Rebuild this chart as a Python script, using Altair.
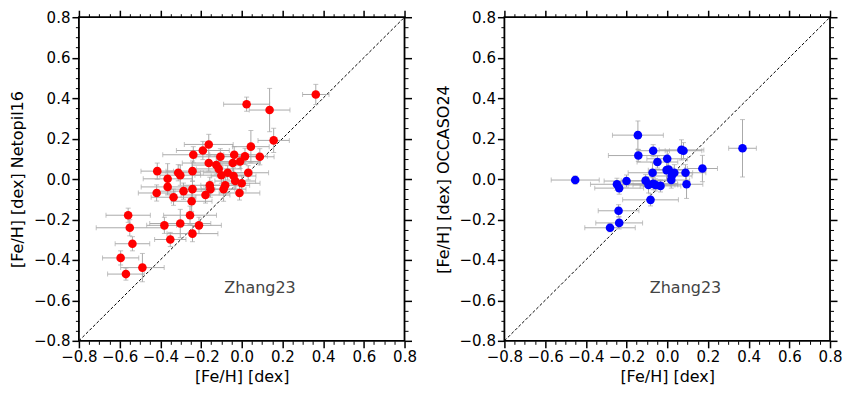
import altair as alt
import pandas as pd

# Left panel: Zhang23 vs Netopil16
l_x = [0.364, 0.024, 0.137, 0.157, 0.045, 0.089, 0.016, -0.008, -0.037, -0.044, 0.032,
       -0.162, -0.191, -0.238, -0.105, -0.162, -0.125, -0.113, -0.100, -0.069, -0.040,
       -0.032, 0.000, -0.011, -0.081, -0.089, -0.157, -0.154, -0.178, -0.242, -0.242,
       -0.246, -0.286, -0.302, -0.312, -0.335, -0.364, -0.364, -0.415, -0.418, -0.254,
       -0.302, -0.210, -0.380, -0.242, -0.351, -0.558, -0.550, -0.537, -0.595, -0.488, -0.569]
l_y = [0.418, 0.370, 0.341, 0.191, 0.160, 0.110, 0.112, 0.087, 0.120, 0.079, 0.031,
       0.171, 0.141, 0.120, 0.110, 0.079, 0.069, 0.050, 0.019, 0.031, 0.015,
       -0.010, -0.021, -0.069, -0.031, -0.050, -0.031, -0.050, -0.079, 0.039, -0.050,
       -0.110, -0.060, 0.019, 0.031, -0.090, 0.001, -0.039, 0.039, -0.069, -0.179,
       -0.220, -0.229, -0.229, -0.270, -0.299, -0.179, -0.241, -0.320, -0.390, -0.438, -0.470]
l_xerr = [0.065, 0.113, 0.100, 0.077, 0.090, 0.070, 0.110, 0.100, 0.120, 0.130, 0.100,
          0.120, 0.130, 0.150, 0.120, 0.130, 0.120, 0.110, 0.130, 0.120, 0.110,
          0.100, 0.090, 0.100, 0.120, 0.110, 0.130, 0.120, 0.120, 0.130, 0.110,
          0.100, 0.120, 0.100, 0.110, 0.110, 0.120, 0.130, 0.080, 0.090, 0.130,
          0.150, 0.110, 0.087, 0.125, 0.077, 0.109, 0.165, 0.085, 0.089, 0.107, 0.090]
l_yerr = [0.050, 0.035, 0.107, 0.060, 0.080, 0.040, 0.040, 0.035, 0.040, 0.040, 0.035,
          0.050, 0.045, 0.040, 0.040, 0.040, 0.045, 0.040, 0.040, 0.035, 0.040,
          0.040, 0.040, 0.035, 0.040, 0.060, 0.040, 0.040, 0.040, 0.050, 0.040,
          0.050, 0.040, 0.050, 0.040, 0.040, 0.075, 0.040, 0.040, 0.040, 0.045,
          0.070, 0.040, 0.040, 0.040, 0.035, 0.035, 0.040, 0.035, 0.035, 0.070, 0.030]

# Right panel: Zhang23 vs OCCASO24
r_x = [-0.452, -0.144, -0.142, -0.069, -0.048, 0.000, 0.070, 0.080, 0.173, -0.003,
       0.007, 0.035, 0.022, 0.020, 0.090, 0.095, -0.072, -0.106, -0.092, -0.069,
       -0.058, -0.033, -0.200, -0.247, -0.236, -0.082, -0.239, -0.236, -0.281, 0.370]
r_y = [-0.005, 0.217, 0.116, 0.140, 0.084, 0.100, 0.144, 0.140, 0.052, 0.044,
       0.047, 0.031, 0.015, -0.005, 0.031, -0.026, 0.031, -0.008, -0.029, -0.023,
       -0.029, -0.034, -0.010, -0.026, -0.045, -0.103, -0.157, -0.217, -0.241, 0.152]
r_xerr = [0.118, 0.125, 0.147, 0.080, 0.100, 0.100, 0.110, 0.090, 0.074, 0.090,
          0.080, 0.090, 0.100, 0.090, 0.100, 0.080, 0.120, 0.120, 0.130, 0.120,
          0.110, 0.100, 0.110, 0.130, 0.120, 0.137, 0.100, 0.115, 0.124, 0.068]
r_yerr = [0.020, 0.070, 0.030, 0.030, 0.030, 0.040, 0.050, 0.040, 0.065, 0.050,
          0.040, 0.040, 0.040, 0.040, 0.040, 0.070, 0.050, 0.030, 0.040, 0.030,
          0.030, 0.030, 0.030, 0.030, 0.030, 0.030, 0.030, 0.030, 0.020, 0.142]

major_ticks = [-0.8, -0.6, -0.4, -0.2, 0.0, 0.2, 0.4, 0.6, 0.8]
minor_ticks = [round(-0.8 + 0.05 * i, 2) for i in range(33) if i % 4 != 0]
diag_vals = [-0.8, 0.8]
label_text = "Zhang23"
x_title = "[Fe/H] [dex]"

W, H = 326, 324
DOM = [-0.8, 0.8]
ERRC = "#aaaaaa"


def sc():
    return alt.Scale(domain=DOM, nice=False, zero=False)


def ax(orient, values, size, width, labels=False, title=None, tpad=0):
    kw = dict(orient=orient, values=values, tickSize=size, tickWidth=width,
              tickColor="black", domain=False, grid=False, labels=labels,
              title=title)
    if labels:
        kw.update(format=".1f", labelFontSize=15, labelColor="black",
                  labelPadding=2, labelFlush=False, labelOverlap=False,
                  titleFontSize=16, titleFontWeight="normal", titleColor="black",
                  titlePadding=tpad)
    return alt.Axis(**kw)


def panel(xs, ys, xe, ye, color, ytitle):
    df = pd.DataFrame({"x": xs, "y": ys, "xe": xe, "ye": ye})
    df["x_lo"] = df.x - df.xe
    df["x_hi"] = df.x + df.xe
    df["y_lo"] = df.y - df.ye
    df["y_hi"] = df.y + df.ye
    diag = pd.DataFrame({"a": diag_vals, "b": diag_vals})
    txt = pd.DataFrame({"tx": [0.09], "ty": [-0.54], "t": [label_text]})

    diag_l = alt.Chart(diag).mark_line(color="black", strokeWidth=1,
                                       strokeDash=[3, 2]).encode(
        x=alt.X("a:Q", scale=sc(), axis=None),
        y=alt.Y("b:Q", scale=sc(), axis=None))
    xerr = alt.Chart(df).mark_rule(color=ERRC, strokeWidth=1).encode(
        x=alt.X("x_lo:Q", scale=sc(), axis=ax("bottom", minor_ticks, 3.5, 1)),
        x2="x_hi:Q",
        y=alt.Y("y:Q", scale=sc(), axis=ax("left", minor_ticks, 3.5, 1)))
    yerr = alt.Chart(df).mark_rule(color=ERRC, strokeWidth=1).encode(
        x=alt.X("x:Q", scale=sc(), axis=ax("top", major_ticks, 7, 1.5)),
        y=alt.Y("y_lo:Q", scale=sc(), axis=ax("right", major_ticks, 7, 1.5)),
        y2="y_hi:Q")
    xcap = alt.Chart(df).transform_fold(["x_lo", "x_hi"], as_=["k", "xc"]).mark_tick(
        color=ERRC, orient="vertical", size=5, thickness=1).encode(
        x=alt.X("xc:Q", scale=sc(), axis=ax("top", minor_ticks, 3.5, 1)),
        y=alt.Y("y:Q", scale=sc(), axis=ax("right", minor_ticks, 3.5, 1)))
    ycap = alt.Chart(df).transform_fold(["y_lo", "y_hi"], as_=["k", "yc"]).mark_tick(
        color=ERRC, orient="horizontal", size=5, thickness=1).encode(
        x=alt.X("x:Q", scale=sc(), axis=None),
        y=alt.Y("yc:Q", scale=sc(), axis=None))
    pts = alt.Chart(df).mark_circle(color=color, opacity=1, size=74).encode(
        x=alt.X("x:Q", scale=sc(),
                axis=ax("bottom", major_ticks, 7, 1.5, labels=True, title=x_title, tpad=4)),
        y=alt.Y("y:Q", scale=sc(),
                axis=ax("left", major_ticks, 7, 1.5, labels=True, title=ytitle, tpad=8)))
    text = alt.Chart(txt).mark_text(fontSize=16, color="#444444", font="DejaVu Sans",
                                    align="center", baseline="middle").encode(
        x=alt.X("tx:Q", scale=sc(), axis=None),
        y=alt.Y("ty:Q", scale=sc(), axis=None),
        text="t:N")
    return alt.layer(diag_l, xerr, yerr, xcap, ycap, pts, text).resolve_axis(
        x="independent", y="independent").properties(width=W, height=H)


left = panel(l_x, l_y, l_xerr, l_yerr, "#ff0000", "[Fe/H] [dex] Netopil16")
right = panel(r_x, r_y, r_xerr, r_yerr, "#0000ff", "[Fe/H] [dex] OCCASO24")

chart = alt.hconcat(left, right, spacing=16).properties(
    padding={"left": 0, "top": 0, "right": 0, "bottom": 0}
).configure(font="DejaVu Sans").configure_view(stroke="black", strokeWidth=1.8)

chart.save("out.html", embed_options={"renderer": "svg", "actions": False})
